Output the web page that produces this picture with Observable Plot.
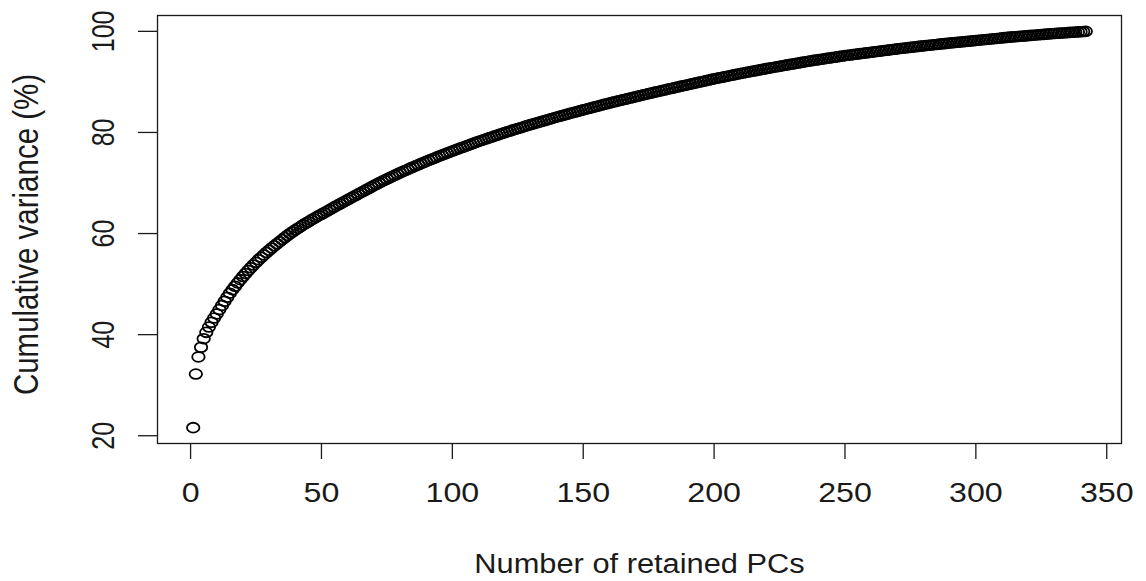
<!DOCTYPE html>
<html>
<head>
<meta charset="utf-8">
<script src="https://cdn.jsdelivr.net/npm/d3@7"></script>
<script src="https://cdn.jsdelivr.net/npm/@observablehq/plot@0.6"></script>
<style>
  html, body { margin: 0; padding: 0; background: #fff; }
  #chart svg { display: block; }
</style>
</head>
<body>
<div id="chart"></div>
<script>
// Cumulative variance (%) for PCs 1..342
const cumVar = [
  21.6, 32.2, 35.6, 37.5, 39.2, 40.45, 41.5, 42.45, 43.3, 44.1,
  44.95, 45.78, 46.6, 47.4, 48.2, 48.9, 49.58, 50.24, 50.88, 51.5,
  52.1, 52.68, 53.24, 53.78, 54.3, 54.81, 55.3, 55.78, 56.25, 56.7,
  57.14, 57.57, 57.99, 58.4, 58.81, 59.21, 59.61, 60.0, 60.36, 60.71,
  61.05, 61.38, 61.71, 62.03, 62.34, 62.65, 62.95, 63.25, 63.54, 63.82,
  64.11, 64.4, 64.69, 64.98, 65.27, 65.56, 65.84, 66.12, 66.4, 66.68,
  66.96, 67.24, 67.52, 67.8, 68.08, 68.36, 68.64, 68.92, 69.2, 69.48,
  69.75, 70.02, 70.28, 70.54, 70.79, 71.04, 71.29, 71.54, 71.78, 72.02,
  72.25, 72.48, 72.71, 72.94, 73.17, 73.39, 73.61, 73.83, 74.05, 74.27,
  74.48, 74.69, 74.9, 75.11, 75.32, 75.52, 75.72, 75.92, 76.12, 76.32,
  76.51, 76.7, 76.89, 77.08, 77.27, 77.46, 77.65, 77.84, 78.03, 78.22,
  78.4, 78.57, 78.75, 78.92, 79.1, 79.27, 79.45, 79.62, 79.8, 79.97,
  80.13, 80.29, 80.45, 80.61, 80.77, 80.93, 81.09, 81.25, 81.41, 81.57,
  81.72, 81.87, 82.02, 82.17, 82.32, 82.47, 82.62, 82.77, 82.92, 83.07,
  83.21, 83.35, 83.49, 83.63, 83.77, 83.91, 84.05, 84.19, 84.33, 84.47,
  84.6, 84.74, 84.87, 85.01, 85.14, 85.28, 85.41, 85.55, 85.68, 85.82,
  85.94, 86.07, 86.19, 86.32, 86.44, 86.57, 86.69, 86.82, 86.94, 87.07,
  87.19, 87.32, 87.44, 87.57, 87.69, 87.81, 87.93, 88.04, 88.16, 88.28,
  88.4, 88.52, 88.63, 88.75, 88.87, 88.99, 89.11, 89.22, 89.34, 89.45,
  89.57, 89.68, 89.8, 89.91, 90.03, 90.14, 90.26, 90.37, 90.49, 90.6,
  90.71, 90.81, 90.92, 91.02, 91.13, 91.23, 91.34, 91.44, 91.55, 91.65,
  91.76, 91.86, 91.96, 92.05, 92.15, 92.24, 92.34, 92.43, 92.53, 92.62,
  92.72, 92.81, 92.91, 93.0, 93.1, 93.19, 93.28, 93.37, 93.46, 93.55,
  93.64, 93.73, 93.82, 93.91, 94.0, 94.09, 94.18, 94.26, 94.34, 94.41,
  94.49, 94.57, 94.65, 94.73, 94.8, 94.88, 94.96, 95.04, 95.12, 95.19,
  95.26, 95.33, 95.4, 95.47, 95.54, 95.6, 95.67, 95.74, 95.8, 95.87,
  95.94, 96.0, 96.07, 96.13, 96.2, 96.27, 96.33, 96.4, 96.46, 96.53,
  96.6, 96.66, 96.72, 96.78, 96.84, 96.9, 96.96, 97.02, 97.08, 97.13,
  97.19, 97.25, 97.3, 97.36, 97.41, 97.47, 97.52, 97.58, 97.63, 97.69,
  97.74, 97.79, 97.84, 97.9, 97.95, 98.0, 98.05, 98.1, 98.15, 98.2,
  98.25, 98.3, 98.35, 98.4, 98.45, 98.5, 98.55, 98.6, 98.65, 98.7,
  98.75, 98.8, 98.85, 98.9, 98.94, 98.99, 99.03, 99.07, 99.11, 99.16,
  99.2, 99.24, 99.29, 99.33, 99.37, 99.41, 99.46, 99.5, 99.54, 99.57,
  99.61, 99.64, 99.68, 99.71, 99.75, 99.79, 99.82, 99.86, 99.89, 99.93,
  99.96, 100.0
];
const xTicks = [0, 50, 100, 150, 200, 250, 300, 350];
const yTicks = [20, 40, 60, 80, 100];
const xTitle = "Number of retained PCs";
const yTitle = "Cumulative variance (%)";

// PC number is the position in the list
const pcs = cumVar.map((_, i) => i + 1);
const data = pcs.map((pc, i) => ({pc, v: cumVar[i]}));

// R-style 4% range extension
const [x0, x1] = d3.extent(pcs);
const [y0, y1] = d3.extent(cumVar);
const xPad = 0.04 * (x1 - x0), yPad = 0.04 * (y1 - y0);

// R's open circle (pch = 1), slightly wider than tall as in the picture
const ellipse = {
  draw(ctx, size) {
    const r = Math.sqrt(size / Math.PI);
    const rx = r * 1.27, ry = r, k = 0.5523;
    ctx.moveTo(rx, 0);
    ctx.bezierCurveTo(rx, k * ry, k * rx, ry, 0, ry);
    ctx.bezierCurveTo(-k * rx, ry, -rx, k * ry, -rx, 0);
    ctx.bezierCurveTo(-rx, -k * ry, -k * rx, -ry, 0, -ry);
    ctx.bezierCurveTo(k * rx, -ry, rx, -k * ry, rx, 0);
    ctx.closePath();
  }
};

const ink = "#1a1a1a";
const chart = Plot.plot({
  width: 1146,
  height: 581,
  marginLeft: 157,
  marginRight: 25,
  marginTop: 15,
  marginBottom: 138,
  x: {domain: [x0 - xPad, x1 + xPad], axis: null},
  y: {domain: [y0 - yPad, y1 + yPad], axis: null},
  style: {fontFamily: "'Liberation Sans', Arial, sans-serif", background: "#fff", color: ink},
  marks: [
    Plot.frame({stroke: ink, strokeWidth: 1.3}),
    Plot.axisX(xTicks, {anchor: "bottom", tickSize: 16, tickFormat: () => "", label: null, stroke: ink, strokeWidth: 1.3}),
    Plot.axisY(yTicks, {anchor: "left", tickSize: 19, tickFormat: () => "", label: null, stroke: ink, strokeWidth: 1.3}),
    Plot.text(xTicks, {x: d => d, text: d => String(d), frameAnchor: "bottom", dy: 39, lineAnchor: "top", textAnchor: "middle", fontSize: 28, fill: ink, className: "sx-xt"}),
    Plot.text(yTicks, {y: d => d, text: d => String(d), frameAnchor: "left", dx: -44, rotate: -90, lineAnchor: "bottom", textAnchor: "middle", fontSize: 25, fill: ink, className: "sx-yt"}),
    Plot.text([xTitle], {text: d => d, frameAnchor: "bottom", dy: 129, lineAnchor: "bottom", textAnchor: "middle", fontSize: 28, fill: ink, className: "sx-xl"}),
    Plot.text([yTitle], {text: d => d, frameAnchor: "left", dx: -120, dy: 5, rotate: -90, lineAnchor: "bottom", textAnchor: "middle", fontSize: 29.5, fill: ink, className: "sx-yl"}),
    Plot.dot(data, {x: "pc", y: "v", r: 4.9, symbol: ellipse, stroke: "#000", strokeWidth: 1.8, fill: "none"})
  ]
});

// widen glyphs horizontally (the reference is rendered slightly stretched)
function stretch(svg, cls, s, rotated) {
  svg.querySelectorAll(`g.${cls} text`).forEach(t => {
    let extra = "";
    ["x", "y"].forEach(a => {
      const v = t.getAttribute(a);
      if (v != null && /^-?[\d.]+$/.test(v)) { t.removeAttribute(a); extra += a === "x" ? ` translate(${v},0)` : ` translate(0,${v})`; }
    });
    const tr = t.getAttribute("transform") || "";
    t.setAttribute("transform", `${tr}${extra} ${rotated ? `scale(1,${s})` : `scale(${s},1)`}`);
  });
}
stretch(chart, "sx-xt", 1.15, false);
stretch(chart, "sx-yt", 1.25, true);
stretch(chart, "sx-xl", 1.1, false);
stretch(chart, "sx-yl", 1.18, true);

document.getElementById("chart").appendChild(chart);
</script>
</body>
</html>
